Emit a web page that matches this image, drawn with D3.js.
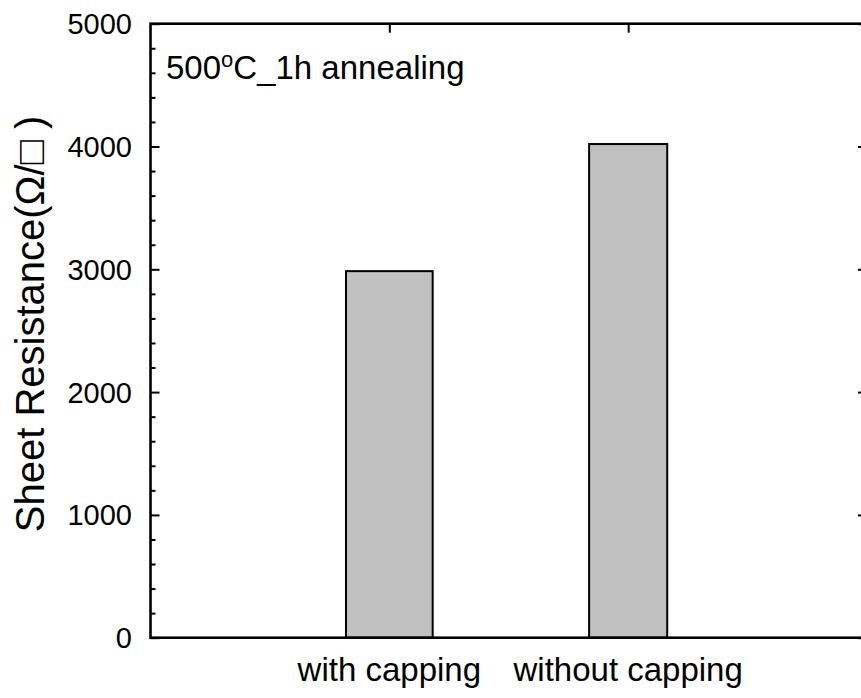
<!DOCTYPE html>
<html>
<head>
<meta charset="utf-8">
<script src="https://cdn.jsdelivr.net/npm/d3@7"></script>
<style>
  html, body { margin: 0; padding: 0; background: #fff; }
  svg { display: block; font-family: "Liberation Sans", Arial, sans-serif; }
</style>
</head>
<body>
<svg id="chart" width="861" height="698"></svg>
<script>
// Sheet resistance after 500 °C / 1 h anneal
const categories = ["with capping", "without capping"];
const resistance = [2985, 4020];
const yTicks = [0, 1000, 2000, 3000, 4000, 5000];
const yMinorTicks = d3.range(0, 5001, 200);

const svg = d3.select("#chart");
const frame = { left: 150.5, right: 867, top: 23.7, bottom: 637.7 };

// categories sit at positions 1 and 2 on a 0..3 axis
const x = d3.scaleLinear().domain([0, categories.length + 1]).range([frame.left, frame.right]);
const y = d3.scaleLinear().domain([0, 5000]).range([frame.bottom, frame.top]);

const barWidth = [0.363, 0.327]; // fraction of one category step
const step = x(1) - x(0);
const catPos = categories.map((d, i) => i + 1);
const minorOnly = yMinorTicks.filter(v => v % 1000 !== 0);

// bottom category ticks (inward, drawn under the bars)
const bottomAxis = svg.append("g").attr("transform", `translate(0,${frame.bottom})`)
  .call(d3.axisTop(x).tickValues(catPos).tickSize(9).tickFormat(""));
bottomAxis.select(".domain").remove();

// bars
svg.append("g").selectAll("rect")
  .data(categories)
  .join("rect")
  .attr("x", (d, i) => x(i + 1) - barWidth[i] * step / 2)
  .attr("width", (d, i) => barWidth[i] * step)
  .attr("y", (d, i) => y(resistance[i]))
  .attr("height", (d, i) => y(0) - y(resistance[i]))
  .attr("fill", "#c0c0c0")
  .attr("stroke", "#000")
  .attr("stroke-width", 2);

// left axis: major and minor ticks pointing inward
const leftMinor = svg.append("g").attr("transform", `translate(${frame.left},0)`)
  .call(d3.axisRight(y).tickValues(minorOnly).tickSize(5).tickFormat(""));
leftMinor.select(".domain").remove();
const leftMajor = svg.append("g").attr("transform", `translate(${frame.left},0)`)
  .call(d3.axisRight(y).tickValues(yTicks).tickSize(9).tickFormat(""));
leftMajor.select(".domain").remove();

// right axis ticks (inward)
const rightMajor = svg.append("g").attr("transform", `translate(${frame.right},0)`)
  .call(d3.axisLeft(y).tickValues(yTicks).tickSize(9).tickFormat(""));
rightMajor.select(".domain").remove();
const rightMinor = svg.append("g").attr("transform", `translate(${frame.right},0)`)
  .call(d3.axisLeft(y).tickValues(minorOnly).tickSize(5).tickFormat(""));
rightMinor.select(".domain").remove();

// top category ticks (inward)
const topAxis = svg.append("g").attr("transform", `translate(0,${frame.top})`)
  .call(d3.axisBottom(x).tickValues(catPos).tickSize(9).tickFormat(""));
topAxis.select(".domain").remove();

svg.selectAll(".tick line").attr("stroke", "#000").attr("stroke-width", 2);

// frame
svg.append("rect")
  .attr("x", frame.left).attr("y", frame.top)
  .attr("width", frame.right - frame.left).attr("height", frame.bottom - frame.top)
  .attr("fill", "none").attr("stroke", "#000").attr("stroke-width", 2.6);

// y tick labels
svg.append("g").selectAll("text")
  .data(yTicks)
  .join("text")
  .attr("x", 132)
  .attr("y", d => y(d))
  .attr("dy", "0.36em")
  .attr("text-anchor", "end")
  .attr("font-size", 29)
  .text(d => d);

// category labels
svg.append("g").selectAll("text")
  .data(categories)
  .join("text")
  .attr("x", (d, i) => x(i + 1))
  .attr("y", 681)
  .attr("text-anchor", "middle")
  .attr("font-size", 33)
  .text(d => d);

// y axis title
svg.append("text")
  .attr("transform", "translate(44,324) rotate(-90)")
  .attr("text-anchor", "middle")
  .attr("font-size", 40)
  .text("Sheet Resistance(Ω/□ )");

// annotation
const note = svg.append("text")
  .attr("x", 166)
  .attr("y", 79)
  .attr("font-size", 33);
note.append("tspan").text("500");
note.append("tspan").attr("dy", -12).attr("font-size", 22).text("o");
note.append("tspan").attr("dy", 12).text("C_1h annealing");
</script>
</body>
</html>
